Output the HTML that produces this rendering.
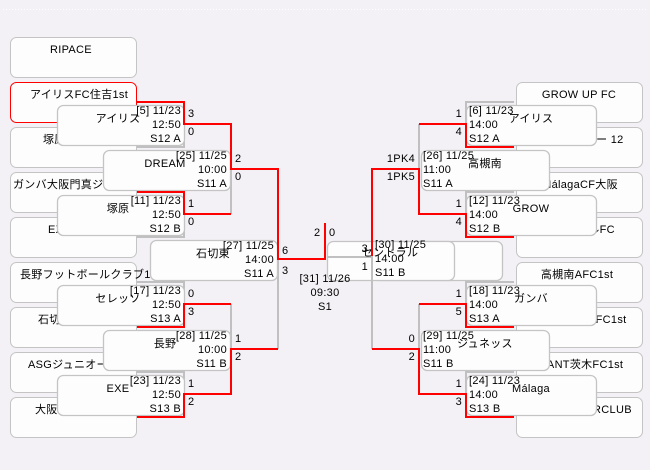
<!DOCTYPE html>
<html><head><meta charset="utf-8"><style>
html,body{margin:0;padding:0;background:#f3f1f5;}
svg{display:block;font-family:"Liberation Sans","Noto Sans CJK JP",sans-serif;font-size:11px;letter-spacing:0.3px;}
</style></head><body>
<svg width="650" height="470" xmlns="http://www.w3.org/2000/svg">
<rect width="650" height="470" fill="#f3f1f5"/>
<line x1="3" y1="9.5" x2="647" y2="9.5" stroke="#fff" stroke-dasharray="1,2"/>
<g fill="#fdfdfd" stroke="#c4c4c4" stroke-width="1">
<rect x="10.5" y="37.5" width="126" height="40" rx="6"/>
<rect x="10.5" y="82.5" width="126" height="40" rx="6" stroke="#f00"/>
<rect x="10.5" y="127.5" width="126" height="40" rx="6"/>
<rect x="10.5" y="172.5" width="126" height="40" rx="6"/>
<rect x="10.5" y="217.5" width="126" height="40" rx="6"/>
<rect x="10.5" y="262.5" width="126" height="40" rx="6"/>
<rect x="10.5" y="307.5" width="126" height="40" rx="6"/>
<rect x="10.5" y="352.5" width="126" height="40" rx="6"/>
<rect x="10.5" y="397.5" width="126" height="40" rx="6"/>
<rect x="516.5" y="82.5" width="126" height="40" rx="6"/>
<rect x="516.5" y="127.5" width="126" height="40" rx="6"/>
<rect x="516.5" y="172.5" width="126" height="40" rx="6"/>
<rect x="516.5" y="217.5" width="126" height="40" rx="6"/>
<rect x="516.5" y="262.5" width="126" height="40" rx="6"/>
<rect x="516.5" y="307.5" width="126" height="40" rx="6"/>
<rect x="516.5" y="352.5" width="126" height="40" rx="6"/>
<rect x="516.5" y="397.5" width="126" height="40" rx="6"/>
</g>
<g fill="#000">
<text x="50" y="53">RIPACE</text>
<text x="30" y="98">アイリスFC住吉1st</text>
<text x="43" y="143">塚原</text>
<text x="13" y="188">ガンバ大阪門真ジュニ</text>
<text x="48" y="233">EXE</text>
<text x="20" y="278">長野フットボールクラブ1st</text>
<text x="38" y="323">石切東</text>
<text x="28" y="368">ASGジュニオール1</text>
<text x="35" y="413">大阪</text>
<g text-anchor="middle">
<text x="579" y="98">GROW  UP  FC</text>
<text x="582" y="143">ジュネッスー 12</text>
<text x="580" y="188">MálagaCF大阪</text>
<text x="579" y="233">セントラルFC</text>
<text x="577" y="278">高槻南AFC1st</text>
<text x="579" y="323">ガンバ大阪AFC1st</text>
<text x="579" y="368">GIANT茨木FC1st</text>
<text x="579" y="413">EXE SOCCERCLUB</text>
</g>
</g>
<g stroke="#c0c0c0" stroke-width="2" fill="none">
<path d="M137 102H184V147H137M184 124H231"/>
<path d="M137 192H184V237H137M184 214H231"/>
<path d="M137 282H184V327H137M184 304H231"/>
<path d="M137 372H184V417H137M184 394H231"/>
<path d="M231 124V214M231 169H278M231 304V394M231 349H278"/>
<path d="M278 169V349M278 259H325V223"/>
<path d="M514 102H466V147H514M466 124H419"/>
<path d="M514 192H466V237H514M466 214H419"/>
<path d="M514 282H466V327H514M466 304H419"/>
<path d="M514 372H466V417H514M466 394H419"/>
<path d="M419 124V214M419 169H372M419 304V394M419 349H372"/>
<path d="M372 169V349M372 259H327"/>
</g>
<g fill="#fdfdfd" stroke="#c4c4c4" stroke-width="1.3">
<rect x="57.5" y="105.5" width="127" height="40" rx="6"/>
<rect x="57.5" y="195.5" width="127" height="40" rx="6"/>
<rect x="57.5" y="285.5" width="127" height="40" rx="6"/>
<rect x="57.5" y="375.5" width="127" height="40" rx="6"/>
<rect x="103.5" y="150.5" width="127" height="40" rx="6"/>
<rect x="103.5" y="330.5" width="127" height="40" rx="6"/>
<rect x="150.5" y="240.5" width="127" height="40" rx="6"/>
<rect x="466.5" y="105.5" width="130" height="40" rx="6"/>
<rect x="466.5" y="195.5" width="130" height="40" rx="6"/>
<rect x="466.5" y="285.5" width="130" height="40" rx="6"/>
<rect x="466.5" y="375.5" width="130" height="40" rx="6"/>
<rect x="421.5" y="150.5" width="128" height="40" rx="6"/>
<rect x="421.5" y="330.5" width="128" height="40" rx="6"/>
<rect x="372.5" y="241.5" width="130" height="39" rx="6"/>
<rect x="327.5" y="241.5" width="127" height="39" rx="6"/>
</g>
<g stroke="#c0c0c0" stroke-width="2" fill="none">
<path d="M327 257H372V349"/>
</g>
<g stroke="#f00" stroke-width="2" fill="none">
<path d="M137 102H184V124H231V169H278V259H325V223"/>
<path d="M137 192H184V214H231"/>
<path d="M137 327H184V304H231"/>
<path d="M137 417H184V394H231V349H278"/>
<path d="M514 147H466V124H419"/>
<path d="M514 237H466V214H419V169H372V256"/>
<path d="M514 327H466V304H419"/>
<path d="M514 417H466V394H419V349H372"/>
</g>
<g fill="#000">
<g text-anchor="middle">
<text x="118" y="122">アイリス</text>
<text x="118" y="212">塚原</text>
<text x="118" y="302">セレッソ</text>
<text x="118" y="392">EXE</text>
<text x="165" y="167">DREAM</text>
<text x="165" y="347">長野</text>
<text x="213" y="257">石切東</text>
<text x="531" y="122">アイリス</text>
<text x="531" y="212">GROW</text>
<text x="531" y="302">ガンバ</text>
<text x="531" y="392">Málaga</text>
<text x="485" y="167">高槻南</text>
<text x="485" y="347">ジュネッス</text>
<text x="390" y="256">セントラル</text>
</g>
<g text-anchor="end">
<text x="181" y="114">[5] 11/23</text><text x="181" y="128">12:50</text><text x="181" y="142">S12  A</text>
<text x="181" y="204">[11] 11/23</text><text x="181" y="218">12:50</text><text x="181" y="232">S12  B</text>
<text x="181" y="294">[17] 11/23</text><text x="181" y="308">12:50</text><text x="181" y="322">S13  A</text>
<text x="181" y="384">[23] 11/23</text><text x="181" y="398">12:50</text><text x="181" y="412">S13  B</text>
<text x="227" y="159">[25] 11/25</text><text x="227" y="173">10:00</text><text x="227" y="187">S11  A</text>
<text x="227" y="339">[28] 11/25</text><text x="227" y="353">10:00</text><text x="227" y="367">S11  B</text>
<text x="274" y="249">[27] 11/25</text><text x="274" y="263">14:00</text><text x="274" y="277">S11  A</text>
</g>
<g>
<text x="469" y="114">[6] 11/23</text><text x="469" y="128">14:00</text><text x="469" y="142">S12  A</text>
<text x="469" y="204">[12] 11/23</text><text x="469" y="218">14:00</text><text x="469" y="232">S12  B</text>
<text x="469" y="294">[18] 11/23</text><text x="469" y="308">14:00</text><text x="469" y="322">S13  A</text>
<text x="469" y="384">[24] 11/23</text><text x="469" y="398">14:00</text><text x="469" y="412">S13  B</text>
<text x="423" y="159">[26] 11/25</text><text x="423" y="173">11:00</text><text x="423" y="187">S11  A</text>
<text x="423" y="339">[29] 11/25</text><text x="423" y="353">11:00</text><text x="423" y="367">S11  B</text>
<text x="375" y="248">[30] 11/25</text><text x="375" y="262">14:00</text><text x="375" y="276">S11  B</text>
</g>
<g text-anchor="middle">
<text x="325" y="282">[31] 11/26</text><text x="325" y="296">09:30</text><text x="325" y="310">S1</text>
</g>
<text x="188" y="117">3</text><text x="188" y="135">0</text>
<text x="188" y="207">1</text><text x="188" y="225">0</text>
<text x="188" y="297">0</text><text x="188" y="315">3</text>
<text x="188" y="387">1</text><text x="188" y="405">2</text>
<text x="235" y="162">2</text><text x="235" y="180">0</text>
<text x="235" y="342">1</text><text x="235" y="360">2</text>
<text x="282" y="254">6</text><text x="282" y="274">3</text>
<text x="314" y="236">2</text><text x="329" y="236">0</text>
<g text-anchor="end">
<text x="462" y="117">1</text><text x="462" y="135">4</text>
<text x="462" y="207">1</text><text x="462" y="225">4</text>
<text x="462" y="297">1</text><text x="462" y="315">5</text>
<text x="462" y="387">1</text><text x="462" y="405">3</text>
<text x="415" y="162">1PK4</text><text x="415" y="180">1PK5</text>
<text x="415" y="342">0</text><text x="415" y="360">2</text>
<text x="368" y="252">3</text><text x="368" y="270">1</text>
</g>
</g>
</svg>
</body></html>
